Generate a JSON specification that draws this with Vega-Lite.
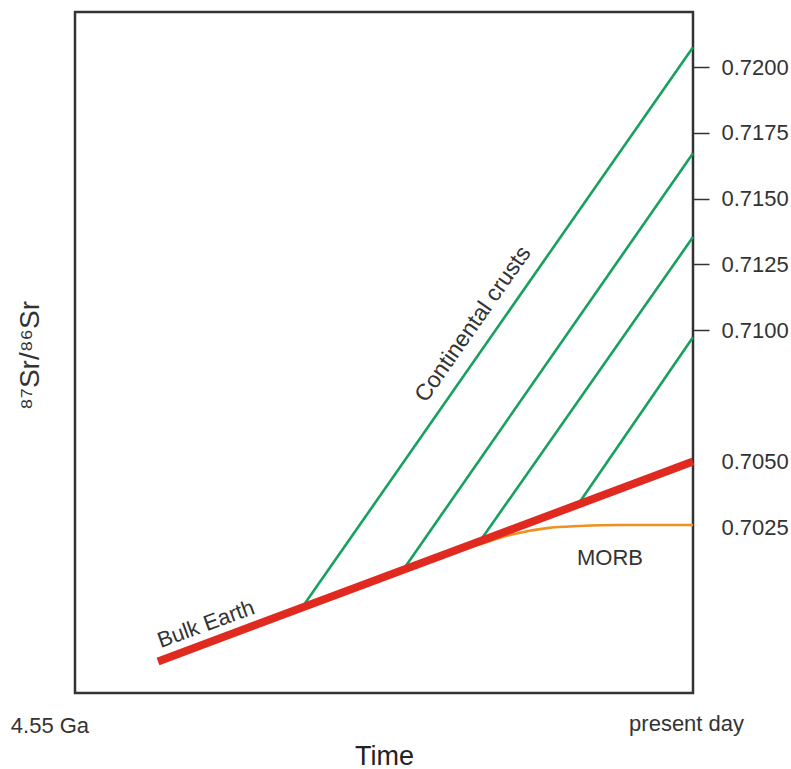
{
  "$schema": "https://vega.github.io/schema/vega-lite/v6.json",
  "width": 618,
  "height": 681,
  "autosize": "none",
  "padding": {"left": 75, "top": 12, "right": 98, "bottom": 76},
  "background": "white",
  "config": {
    "view": {"stroke": "#333333", "strokeWidth": 2.5},
    "font": "Liberation Sans",
    "text": {"font": "Liberation Sans"}
  },
  "datasets": {
    "bulk": [
      {"age": 4.55, "sr": 0.6974},
      {"age": 0, "sr": 0.705}
    ],
    "crust": [
      {"id": 1, "age": 3.325, "sr": 0.69945},
      {"id": 1, "age": 0, "sr": 0.72076},
      {"id": 2, "age": 2.466, "sr": 0.70088},
      {"id": 2, "age": 0, "sr": 0.71673},
      {"id": 3, "age": 1.811, "sr": 0.70198},
      {"id": 3, "age": 0, "sr": 0.71354},
      {"id": 4, "age": 0.978, "sr": 0.70337},
      {"id": 4, "age": 0, "sr": 0.70973}
    ],
    "morb": [
      {"age": 2.492, "sr": 0.70084},
      {"age": 2.237, "sr": 0.70126},
      {"age": 2.067, "sr": 0.70152},
      {"age": 1.811, "sr": 0.70186},
      {"age": 1.531, "sr": 0.70224},
      {"age": 1.242, "sr": 0.70247},
      {"age": 0.961, "sr": 0.70255},
      {"age": 0.621, "sr": 0.70259},
      {"age": 0, "sr": 0.70259}
    ],
    "labels": [
      {"label": "Bulk Earth", "age": 4.142, "sr": 0.69882},
      {"label": "Continental crusts", "age": 1.871, "sr": 0.71023},
      {"label": "MORB", "age": 0.706, "sr": 0.70133},
      {"label": "4.55 Ga", "age": 5.469, "sr": 0.69494}
    ]
  },
  "layer": [
    {
      "data": {"name": "crust"},
      "mark": {"type": "line", "color": "#17a05e", "strokeWidth": 2.6},
      "encoding": {
        "x": {
          "field": "age", "type": "quantitative",
          "scale": {"domain": [5.256, 0], "nice": false, "zero": false},
          "axis": {
            "orient": "bottom",
            "values": [0.059],
            "labelExpr": "'present day'",
            "ticks": false, "domain": false, "grid": false,
            "labelPadding": 20, "labelFontSize": 22, "labelColor": "#333333",
            "labelFlush": false, "labelOverlap": false, "labelBound": false,
            "title": "Time", "titleFontSize": 27, "titleFontWeight": "normal",
            "titleColor": "#222222", "titleY": 71, "titleBaseline": "alphabetic"
          }
        },
        "y": {
          "field": "sr", "type": "quantitative",
          "scale": {"domain": [0.6962, 0.7221], "nice": false, "zero": false},
          "axis": {
            "orient": "right",
            "values": [0.7025, 0.705, 0.71, 0.7125, 0.715, 0.7175, 0.72],
            "format": ".4f",
            "tickSize": 16, "tickWidth": 1.5, "tickColor": "#333333",
            "tickOpacity": {"condition": {"test": "datum.value < 0.709", "value": 0}, "value": 1},
            "labelPadding": 12, "labelFontSize": 22, "labelColor": "#333333",
            "labelBaseline": "middle",
            "domain": false, "grid": false,
            "title": "⁸⁷Sr/⁸⁶Sr", "titleAngle": 270, "titleX": -663, "titleY": 343,
            "titleAlign": "center", "titleBaseline": "middle",
            "titleFontSize": 28, "titleFontWeight": "normal", "titleColor": "#333333"
          }
        },
        "detail": {"field": "id", "type": "nominal"}
      }
    },
    {
      "data": {"name": "morb"},
      "mark": {"type": "line", "color": "#f0901e", "strokeWidth": 2.6, "interpolate": "monotone"},
      "encoding": {
        "x": {"field": "age", "type": "quantitative"},
        "y": {"field": "sr", "type": "quantitative"}
      }
    },
    {
      "data": {"name": "bulk"},
      "mark": {"type": "line", "color": "#e02a1f", "strokeWidth": 8},
      "encoding": {
        "x": {"field": "age", "type": "quantitative"},
        "y": {"field": "sr", "type": "quantitative"}
      }
    },
    {
      "data": {"name": "labels"},
      "transform": [{"filter": "datum.label == 'Bulk Earth'"}],
      "mark": {"type": "text", "angle": 340, "fontSize": 22, "color": "#333333", "align": "center", "baseline": "middle"},
      "encoding": {
        "x": {"field": "age", "type": "quantitative"},
        "y": {"field": "sr", "type": "quantitative"},
        "text": {"field": "label"}
      }
    },
    {
      "data": {"name": "labels"},
      "transform": [{"filter": "datum.label == 'Continental crusts'"}],
      "mark": {"type": "text", "angle": 305, "fontSize": 23, "color": "#333333", "align": "center", "baseline": "middle"},
      "encoding": {
        "x": {"field": "age", "type": "quantitative"},
        "y": {"field": "sr", "type": "quantitative"},
        "text": {"field": "label"}
      }
    },
    {
      "data": {"name": "labels"},
      "transform": [{"filter": "datum.label == 'MORB' || datum.label == '4.55 Ga'"}],
      "mark": {"type": "text", "fontSize": 22, "color": "#333333", "align": "center", "baseline": "middle"},
      "encoding": {
        "x": {"field": "age", "type": "quantitative"},
        "y": {"field": "sr", "type": "quantitative"},
        "text": {"field": "label"}
      }
    }
  ]
}
